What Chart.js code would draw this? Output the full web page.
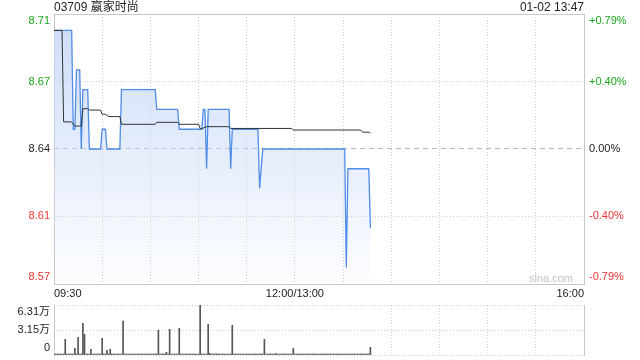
<!DOCTYPE html>
<html>
<head>
<meta charset="utf-8">
<title>03709 嬴家时尚</title>
<script src="https://cdn.jsdelivr.net/npm/chart.js"></script>
<style>
  html, body { margin: 0; padding: 0; background: #fff; }
  #wrap { position: relative; width: 640px; height: 360px; overflow: hidden; }
  #price { position: absolute; left: 0; top: 0; }
  #volume { position: absolute; left: 0; top: 298px; }
</style>
</head>
<body>
<div id="wrap">
  <canvas id="price" width="640" height="300"></canvas>
  <canvas id="volume" width="640" height="62"></canvas>
</div>
<script>
const stockTitle = '03709 嬴家时尚';
const stampText = '01-02 13:47';
const prevClose = 8.64;
const lastMinute = 197;

// minutes after 09:30, lunch removed (150 = 12:00/13:00, 330 = 16:00)
const priceMinutes = [0, 11, 12, 13, 14, 16, 17, 18, 21, 22, 29, 30, 32, 33, 41, 42, 63, 64, 77, 78,
  92, 93, 94, 95, 96, 109, 110, 111, 127, 128, 130, 181, 182, 183, 196, 197];
const priceValues = [8.70, 8.70, 8.65, 8.65, 8.68, 8.68, 8.64, 8.67, 8.67, 8.64, 8.64, 8.65, 8.65, 8.64, 8.64, 8.67, 8.67, 8.66, 8.66, 8.65,
  8.65, 8.66, 8.66, 8.63, 8.66, 8.66, 8.63, 8.65, 8.65, 8.62, 8.64, 8.64, 8.58, 8.63, 8.63, 8.60];

const avgMinutes = [0, 5, 6, 11, 13, 17, 18, 21, 22, 29, 30, 32, 34, 41, 42, 63, 64, 77, 78, 90,
  91, 92, 95, 109, 110, 148, 149, 191, 192, 196, 197];
const avgValues = [8.7000, 8.7000, 8.6537, 8.6537, 8.6516, 8.6516, 8.6604, 8.6604, 8.6597, 8.6597,
  8.6576, 8.6576, 8.6564, 8.6564, 8.6525, 8.6525, 8.6535, 8.6535, 8.6525, 8.6525,
  8.6503, 8.6503, 8.6513, 8.6513, 8.6504, 8.6504, 8.6496, 8.6496, 8.6485, 8.6485, 8.6480];

const volMinutes = [7, 13, 15, 18, 19, 23, 30, 33, 35, 43, 65, 70, 72, 78, 91, 96, 97, 101, 111, 131, 138, 149, 192, 197];
const volValues = [19800, 8400, 22300, 40000, 26100, 7200, 21000, 5900, 7200, 42900, 31500, 3400, 32400, 33700,
  63100, 38700, 2000, 1500, 37500, 19800, 1800, 8400, 1500, 9700];

const priceTicks = [8.5717, 8.6059, 8.64, 8.6741, 8.7083];
const priceTickLabels = ['8.57', '8.61', '8.64', '8.67', '8.71'];
const pctTickLabels = ['-0.79%', '-0.40%', '0.00%', '+0.40%', '+0.79%'];
const volTicks = [0, 31550, 63100];
const volTickLabels = ['0', '3.15万', '6.31万'];
const gridMinutes = [0, 30, 60, 90, 120, 150, 180, 210, 240, 270, 300, 330];
const timeLabelMinutes = [0, 150, 330];
const timeLabels = ['09:30', '12:00/13:00', '16:00'];

const FONT = '"Liberation Sans", Arial, "Noto Sans CJK SC", sans-serif';
const GREEN = '#1ca51c';
const RED = '#f03333';
const GRID = '#cdcdd3';
const FRAME = '#c8c8c8';

Chart.defaults.font.family = FONT;
Chart.defaults.font.size = 11;
Chart.defaults.color = '#222';

// first/last labels pushed inside the panel
const edgeLabel = (labels, i) => {
  if (i === 0) return [labels[i], ''];
  if (i === labels.length - 1) return ['', labels[i]];
  return labels[i];
};
const tickColor = (i) => {
  if (priceTicks[i] > prevClose) return GREEN;
  if (priceTicks[i] < prevClose) return RED;
  return '#222';
};
const fixWidth = (w) => (scale) => {
  scale.width = w;
  scale.paddingTop = 0;
  scale.paddingBottom = 0;
};

const crisp = (v) => Math.round(v) + 0.5;

const priceDecor = {
  id: 'priceDecor',
  beforeDatasetsDraw(chart) {
    const { ctx, chartArea: a } = chart;
    ctx.save();
    ctx.strokeStyle = FRAME;
    ctx.lineWidth = 1;
    ctx.strokeRect(crisp(a.left), crisp(a.top), Math.round(a.right) - Math.round(a.left), Math.round(a.bottom) - Math.round(a.top));
    ctx.font = '11px ' + FONT;
    ctx.fillStyle = '#c4c4c4';
    ctx.textAlign = 'right';
    ctx.textBaseline = 'middle';
    ctx.fillText('sina.com', a.right - 11, a.bottom - 5);
    ctx.restore();
  },
  afterDraw(chart) {
    const { ctx, chartArea: a } = chart;
    ctx.save();
    ctx.font = '12px ' + FONT;
    ctx.fillStyle = '#222';
    ctx.textBaseline = 'middle';
    ctx.textAlign = 'left';
    ctx.fillText(stockTitle, a.left, 8);
    ctx.textAlign = 'right';
    ctx.fillText(stampText, a.right, 8);
    ctx.restore();
  }
};

const volFrame = {
  id: 'volFrame',
  beforeDatasetsDraw(chart) {
    const { ctx, chartArea: a } = chart;
    ctx.save();
    ctx.strokeStyle = FRAME;
    ctx.lineWidth = 1;
    ctx.beginPath();
    ctx.moveTo(crisp(a.left), Math.round(a.top));
    ctx.lineTo(crisp(a.left), Math.round(a.bottom) + 1);
    ctx.moveTo(crisp(a.right), Math.round(a.top));
    ctx.lineTo(crisp(a.right), Math.round(a.bottom) + 1);
    ctx.stroke();
    ctx.restore();
  }
};

const priceData = priceMinutes.map((m, i) => ({ x: m, y: priceValues[i] }));
const avgData = avgMinutes.map((m, i) => ({ x: m, y: avgValues[i] }));

const volData = [];
for (let m = 0; m <= lastMinute; m++) {
  const k = volMinutes.indexOf(m);
  volData.push({ x: m, y: k >= 0 ? volValues[k] : 0 });
}

new Chart(document.getElementById('price'), {
  type: 'line',
  data: {
    datasets: [
      {
        label: '均价',
        data: avgData,
        borderColor: '#333',
        borderWidth: 1,
        pointRadius: 0,
        fill: false,
        tension: 0,
      },
      {
        label: '价格',
        data: priceData,
        borderColor: '#4f8de6',
        borderWidth: 1.3,
        pointRadius: 0,
        tension: 0,
        fill: 'start',
        backgroundColor: (ctx) => {
          const a = ctx.chart.chartArea;
          if (!a) return 'rgba(200,218,246,0.5)';
          const g = ctx.chart.ctx.createLinearGradient(0, a.top, 0, a.bottom);
          g.addColorStop(0, 'rgba(196,214,246,0.85)');
          g.addColorStop(1, 'rgba(196,214,246,0.04)');
          return g;
        },
      },
    ],
  },
  options: {
    responsive: false,
    animation: false,
    devicePixelRatio: 1,
    layout: { padding: { top: 14, left: 0, right: 0, bottom: 0 } },
    plugins: {
      legend: { display: false },
      tooltip: { enabled: false },
    },
    scales: {
      x: {
        type: 'linear',
        min: 0,
        max: 330,
        afterBuildTicks: (scale) => { scale.ticks = gridMinutes.map((value) => ({ value })); },
        afterFit: (scale) => { scale.height = 16; scale.paddingLeft = 0; scale.paddingRight = 0; },
        ticks: {
          autoSkip: false,
          maxRotation: 0,
          minRotation: 0,
          align: 'inner',
          padding: 3,
          color: '#222',
          callback: (value) => {
            const k = timeLabelMinutes.indexOf(value);
            return k >= 0 ? timeLabels[k] : '';
          },
        },
        grid: { color: GRID, drawTicks: false },
        border: { display: false, dash: [1, 2] },
      },
      y: {
        position: 'left',
        min: priceTicks[0],
        max: priceTicks[priceTicks.length - 1],
        afterBuildTicks: (scale) => { scale.ticks = priceTicks.map((value) => ({ value })); },
        afterFit: fixWidth(54),
        ticks: {
          autoSkip: false,
          padding: 4,
          color: (ctx) => tickColor(ctx.index),
          callback: (value, i) => edgeLabel(priceTickLabels, i),
        },
        grid: {
          drawTicks: false,
          color: (ctx) => (ctx.tick && ctx.tick.value === prevClose ? '#b8b8c6' : GRID),
        },
        border: {
          display: false,
          dash: (ctx) => (ctx.tick && ctx.tick.value === prevClose ? [5, 4] : [1, 2]),
        },
      },
      y1: {
        position: 'right',
        min: priceTicks[0],
        max: priceTicks[priceTicks.length - 1],
        afterBuildTicks: (scale) => { scale.ticks = priceTicks.map((value) => ({ value })); },
        afterFit: fixWidth(56),
        ticks: {
          autoSkip: false,
          padding: 5,
          color: (ctx) => tickColor(ctx.index),
          callback: (value, i) => edgeLabel(pctTickLabels, i),
        },
        grid: { display: false, drawTicks: false },
        border: { display: false },
      },
    },
  },
  plugins: [priceDecor],
});

new Chart(document.getElementById('volume'), {
  type: 'bar',
  data: {
    datasets: [
      {
        label: '成交量',
        data: volData,
        backgroundColor: '#555',
        barThickness: 1,
        minBarLength: 1,
      },
    ],
  },
  options: {
    responsive: false,
    animation: false,
    devicePixelRatio: 1,
    layout: { padding: { top: 7, left: 0, right: 56, bottom: 5 } },
    plugins: {
      legend: { display: false },
      tooltip: { enabled: false },
    },
    scales: {
      x: {
        type: 'linear',
        min: 0,
        max: 330,
        offset: false,
        afterBuildTicks: (scale) => { scale.ticks = gridMinutes.map((value) => ({ value })); },
        afterFit: (scale) => { scale.height = 0; scale.paddingLeft = 0; scale.paddingRight = 0; },
        ticks: { display: false },
        grid: {
          offset: false,
          drawTicks: false,
          color: (ctx) => (ctx.tick && ctx.tick.value > lastMinute && ctx.tick.value < 330 ? GRID : 'rgba(0,0,0,0)'),
        },
        border: { display: false, dash: [1, 2] },
      },
      y: {
        min: volTicks[0],
        max: volTicks[volTicks.length - 1],
        afterBuildTicks: (scale) => { scale.ticks = volTicks.map((value) => ({ value })); },
        afterFit: fixWidth(54),
        ticks: {
          autoSkip: false,
          padding: 4,
          color: '#222',
          callback: (value, i) => edgeLabel(volTickLabels, i),
        },
        grid: { color: GRID, drawTicks: false },
        border: { display: false, dash: [1, 2] },
      },
    },
  },
  plugins: [volFrame],
});
</script>
</body>
</html>
